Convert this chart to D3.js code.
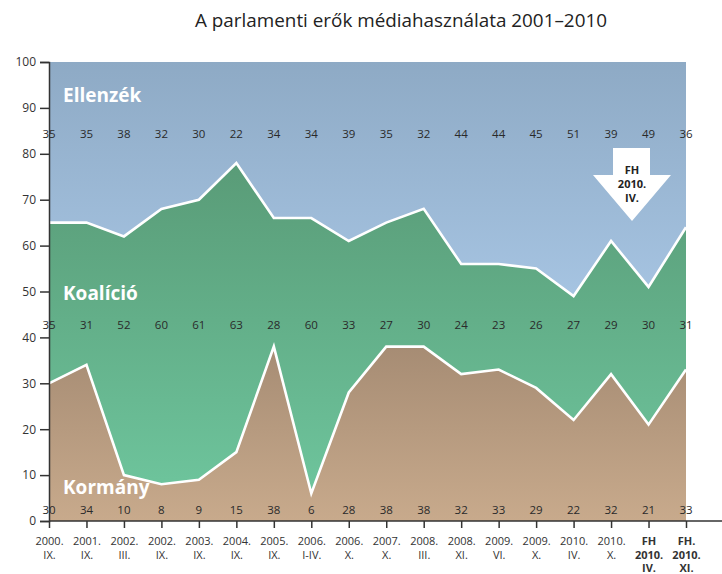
<!DOCTYPE html>
<html>
<head>
<meta charset="utf-8">
<script src="https://cdn.jsdelivr.net/npm/d3@7"></script>
<style>
body { margin:0; background:#fff; }
svg { font-family: "Open Sans", "Noto Sans", sans-serif; }
.tick text { fill:#333; }
</style>
</head>
<body>
<svg id="chart"></svg>
<script>
var periods = ["2000.|IX.","2001.|IX.","2002.|III.","2002.|IX.","2003.|IX.","2004.|IX.",
    "2005.|IX.","2006.|I-IV.","2006.|X.","2007.|X.","2008.|III.","2008.|XI.","2009.|VI.",
    "2009.|X.","2010.|IV.","2010.|X.","FH|2010.|IV.","FH.|2010.|XI."]
var boldPeriods = [16,17]

var kormany  = [30,34,10,8,9,15,38,6,28,38,38,32,33,29,22,32,21,33]
var koalicio = [35,31,52,60,61,63,28,60,33,27,30,24,23,26,27,29,30,31]
var ellenzek = [35,35,38,32,30,22,34,34,39,35,32,44,44,45,51,39,49,36]

var yTicks = [0,10,20,30,40,50,60,70,80,90,100]

var seriesNames = ["Kormány","Koalíció","Ellenzék"]
// where the row of small numbers sits, in data units
var labelRows = [2.4,42.8,84.4]
var bigLabelY = [7.4,49.7,92.8]

var screen = {width:722, height:574}
var margins = {left:49, right:36, top:62, bottom:53}

var svg = d3.select("#chart")
    .attr("width",screen.width)
    .attr("height",screen.height)

var xScale = d3.scalePoint()
    .domain(d3.range(periods.length))
    .range([margins.left, screen.width-margins.right])

var yScale = d3.scaleLinear()
    .domain([0,100])
    .range([screen.height-margins.bottom, margins.top])

var table = periods.map(function(p,i){
    return {i:i, "Kormány":kormany[i], "Koalíció":koalicio[i], "Ellenzék":ellenzek[i]}
})
var stacked = d3.stack().keys(seriesNames)(table)

//gradients
var defs = svg.append("defs")
var grads = [
    {id:"gBrown", y1:340, y2:521, c1:"#a58b73", c2:"#c8aa8c"},
    {id:"gGreen", y1:160, y2:480, c1:"#599b77", c2:"#6dc39b"},
    {id:"gBlue",  y1:62,  y2:300, c1:"#8eaac5", c2:"#a6c4e2"}
]
grads.forEach(function(g){
    var lg = defs.append("linearGradient")
        .attr("id",g.id)
        .attr("gradientUnits","userSpaceOnUse")
        .attr("x1",0).attr("x2",0).attr("y1",g.y1).attr("y2",g.y2)
    lg.append("stop").attr("offset",0).attr("stop-color",g.c1)
    lg.append("stop").attr("offset",1).attr("stop-color",g.c2)
})

var area = d3.area()
    .x(function(d){ return xScale(d.data.i) })
    .y0(function(d){ return yScale(d[0]) })
    .y1(function(d){ return yScale(d[1]) })

var line = d3.line()
    .x(function(d){ return xScale(d.data.i) })
    .y(function(d){ return yScale(d[1]) })

var g = svg.append("g").classed("graph",true)

g.selectAll("path.area")
    .data(stacked)
    .enter()
    .append("path")
    .attr("class","area")
    .attr("d",area)
    .attr("fill",function(d,i){ return "url(#"+grads[i].id+")" })

//white borders between layers
g.selectAll("path.border")
    .data(stacked.slice(0,2))
    .enter()
    .append("path")
    .attr("class","border")
    .attr("d",line)
    .attr("fill","none")
    .attr("stroke","white")
    .attr("stroke-width",2.6)
    .attr("stroke-linejoin","miter")

//the arrow
var ax = 632
var arrow = svg.append("g")
arrow.append("path")
    .attr("d","M"+(ax-19)+",148 L"+(ax+18)+",148 L"+(ax+18)+",175 L"+(ax+39)+",175 L"+ax+",221 L"+(ax-39)+",175 L"+(ax-19)+",175 Z")
    .attr("fill","white")
arrow.selectAll("text")
    .data(["FH","2010.","IV."])
    .enter()
    .append("text")
    .attr("x",ax)
    .attr("y",function(d,i){ return 174+i*14 })
    .attr("text-anchor","middle")
    .attr("font-weight","bold")
    .attr("font-size",11)
    .attr("fill","#222")
    .text(function(d){ return d })

//small value labels
seriesNames.forEach(function(name,k){
    var vals = [kormany,koalicio,ellenzek][k]
    g.append("g").selectAll("text")
        .data(vals)
        .enter()
        .append("text")
        .attr("x",function(d,i){ return xScale(i) })
        .attr("y",yScale(labelRows[k])+4)
        .attr("text-anchor","middle")
        .attr("font-size",11.5)
        .attr("fill","#2a2a2a")
        .text(function(d){ return d })
})

//big series names
g.selectAll("text.big")
    .data(seriesNames)
    .enter()
    .append("text")
    .attr("class","big")
    .attr("x",63)
    .attr("y",function(d,i){ return yScale(bigLabelY[i])+7 })
    .attr("font-size",19)
    .attr("font-weight","bold")
    .attr("fill","white")
    .text(function(d){ return d })

//axes
var yAxis = d3.axisLeft(yScale).tickValues(yTicks).tickSize(9).tickPadding(4)
var yG = svg.append("g")
    .attr("transform","translate("+margins.left+",0)")
    .call(yAxis)
yG.select(".domain").attr("stroke","#333").attr("stroke-width",1.5)
yG.selectAll(".tick line").attr("stroke","#333").attr("stroke-width",1.5)
yG.selectAll(".tick text").attr("font-size",12).attr("font-family","\"Open Sans\", sans-serif")

var xAxis = d3.axisBottom(xScale).tickSize(7).tickFormat("")
var xG = svg.append("g")
    .attr("transform","translate(0,"+yScale(0)+")")
    .call(xAxis)
xG.select(".domain").remove()
xG.append("line")
    .attr("x1",margins.left).attr("x2",screen.width)
    .attr("y1",0).attr("y2",0)
    .attr("stroke","#333").attr("stroke-width",1.5)
xG.selectAll(".tick line").attr("stroke","#333").attr("stroke-width",1.5)
xG.selectAll(".tick")
    .append("text")
    .attr("font-size",11)
    .attr("font-family","\"Open Sans\", sans-serif")
    .attr("fill","#222")
    .attr("text-anchor","middle")
    .attr("font-weight",function(d){ return boldPeriods.indexOf(d)>=0 ? "bold" : null })
    .selectAll("tspan")
    .data(function(d){ return periods[d].split("|") })
    .enter()
    .append("tspan")
    .attr("x",0)
    .attr("y",function(d,i){ return 24+i*13.5 })
    .text(function(d){ return d })

//title
svg.append("text")
    .attr("x",401)
    .attr("y",27)
    .attr("text-anchor","middle")
    .attr("font-size",17.5)
    .attr("fill","#222")
    .attr("textLength",412)
    .attr("lengthAdjust","spacingAndGlyphs")
    .text("A parlamenti erők médiahasználata 2001–2010")
</script>
</body>
</html>
